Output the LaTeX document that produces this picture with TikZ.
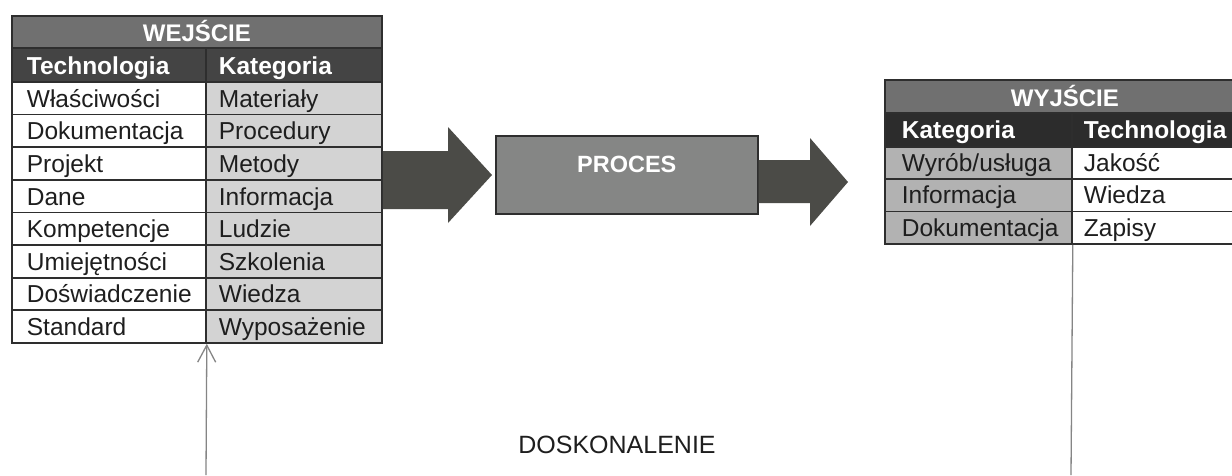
\documentclass[tikz,border=0pt]{standalone}
\usepackage{fontspec}
\setmainfont{Liberation Sans}
\usetikzlibrary{arrows.meta}
\definecolor{gridc}{HTML}{2E2E2E}
\definecolor{txt}{HTML}{1E1E1E}
\definecolor{titlefill}{HTML}{707070}
\definecolor{subfillL}{HTML}{444444}
\definecolor{subfillR}{HTML}{2C2C2C}
\definecolor{catL}{HTML}{D3D3D3}
\definecolor{catR}{HTML}{B2B2B2}
\definecolor{procfill}{HTML}{858685}
\definecolor{arrowfill}{HTML}{4B4B47}
\definecolor{loopc}{HTML}{858585}
\hfuzz=40pt
\hbadness=10000
\begin{document}
\hyphenpenalty=10000
\exhyphenpenalty=10000
\begin{tikzpicture}[x=1pt,y=-1pt,
  cell/.style={font=\fontsize{24.5}{27}\selectfont, draw=gridc, line width=1.8pt, anchor=north west,
    inner ysep=0pt, text height=18pt, text depth=0pt, text=txt, align=left},
  titlecell/.style={cell, fill=titlefill, text=white, align=center,
    font=\fontsize{24}{27}\selectfont\bfseries},
  subcell/.style={cell, text=white, text height=20pt,
    font=\fontsize{24.5}{27}\selectfont\bfseries},
  % column widths and paddings
  lA/.style={minimum width=194pt, text width=164pt, inner xsep=0pt},
  lB/.style={minimum width=176pt, text width=150pt, inner xsep=0pt},
  rA/.style={minimum width=187pt, text width=153pt, inner xsep=0pt},
  rB/.style={minimum width=173pt, text width=149pt, inner xsep=0pt},
  bigarrow/.style={fill=arrowfill},
  procbox/.style={draw=gridc, line width=1.5pt, fill=procfill, anchor=north west,
    minimum width=262pt, minimum height=78pt, text=white, inner sep=0pt,
    text height=17pt, text depth=22pt, font=\fontsize{23.5}{26}\selectfont\bfseries},
  loopline/.style={draw=loopc, line width=1.3pt},
]
\useasboundingbox (0,0) rectangle (1232,475);
\fill[white] (0,0) rectangle (1232,475);
\clip (0,0) rectangle (1232,475);

% ---------- input table ----------
\node[titlecell, minimum width=370pt, minimum height=32pt, text height=20pt] (lt) at (11,15) {WEJŚCIE};
\node[subcell, lA, fill=subfillL, minimum height=34pt] (lhA) at (11,47) {Technologia};
\node[subcell, lB, fill=subfillL, minimum height=34pt] (lhB) at (205,47) {Kategoria};
\foreach \i/\a/\b in {1/Właściwości/Materiały, 2/Dokumentacja/Procedury,
    3/Projekt/Metody, 4/Dane/Informacja, 5/Kompetencje/Ludzie,
    6/Umiejętności/Szkolenia, 7/Doświadczenie/Wiedza, 8/Standard/Wyposażenie}{
  \node[cell, lA, fill=white, minimum height=32.625pt] (l\i a) at (11,{81+(\i-1)*32.625}) {\a};
  \node[cell, lB, fill=catL, minimum height=32.625pt] (l\i b) at (205,{81+(\i-1)*32.625}) {\b};
}

% ---------- process ----------
\node[procbox] (proc) at (495,135) {PROCES};

% ---------- output table ----------
\node[titlecell, minimum width=360pt, minimum height=33pt, text height=21pt] (rt) at (884,79) {WYJŚCIE};
\node[subcell, rA, fill=subfillR, minimum height=34pt, text height=18pt] (rhA) at (884,112) {Kategoria};
\node[subcell, rB, fill=subfillR, minimum height=34pt, text height=18pt] (rhB) at (1071,112) {Technologia};
\foreach \i/\a/\b in {1/Wyrób\slash usługa/Jakość, 2/Informacja/Wiedza, 3/Dokumentacja/Zapisy}{
  \node[cell, rA, fill=catR, minimum height=32.33pt, text height=17pt] (r\i a) at (884,{146+(\i-1)*32.33}) {\a};
  \node[cell, rB, fill=white, minimum height=32.33pt, text height=17pt] (r\i b) at (1071,{146+(\i-1)*32.33}) {\b};
}

% ---------- block arrows ----------
\fill[bigarrow] (lt.east |- 0,151) -- (448,151) -- (448,127)
  -- ([xshift=-3pt]proc.west |- 0,175) -- (448,223) -- (448,209)
  -- (lt.east |- 0,209) -- cycle;
\fill[bigarrow] (proc.east |- 0,160) -- (810,160) -- (810,138)
  -- ([xshift=-36pt]rt.west |- 0,182) -- (810,226) -- (810,203)
  -- (proc.east |- 0,203) -- cycle;

% ---------- improvement loop ----------
\coordinate (loopin) at (206,475);
\coordinate (loopout) at (1071,475);
\draw[loopline, -{Straight Barb[length=17pt,width=18pt]}] (loopin) -- (l8a.south east);
\draw[loopline] (r3a.south east) -- (loopout);
\node[text=txt, font=\fontsize{25}{28}\selectfont] (dosk) at (617,445) {DOSKONALENIE};
\end{tikzpicture}
\end{document}
